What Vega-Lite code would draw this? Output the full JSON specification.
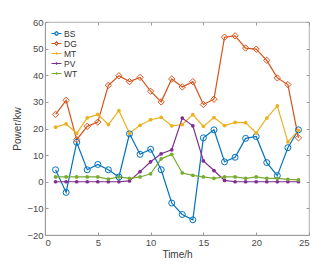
{
  "$schema": "https://vega.github.io/schema/vega-lite/v6.json",
  "autosize": "none",
  "width": 264,
  "height": 213,
  "padding": {"left": 45, "top": 22, "right": 23, "bottom": 32},
  "background": "white",
  "config": {
    "font": "Liberation Sans",
    "view": {"stroke": "#9a9a9a", "strokeWidth": 0.8},
    "legend": {"rowPadding": -3, "symbolBaseFillColor": "transparent"},
    "axis": {
      "grid": false,
      "domainColor": "#9a9a9a",
      "tickColor": "#9a9a9a",
      "labelColor": "#4a4a4a",
      "titleColor": "#3a3a3a",
      "labelFontSize": 9.5,
      "titleFontSize": 10,
      "titleFontWeight": "normal",
      "tickSize": -3,
      "labelPadding": 5
    }
  },
  "data": {
    "values": [
      {"t":1,"s":"BS","v":4.5},{"t":2,"s":"BS","v":-4},{"t":3,"s":"BS","v":14.8},{"t":4,"s":"BS","v":4.5},{"t":5,"s":"BS","v":6.5},{"t":6,"s":"BS","v":4.5},{"t":7,"s":"BS","v":1.8},{"t":8,"s":"BS","v":18},{"t":9,"s":"BS","v":10.3},{"t":10,"s":"BS","v":12.2},{"t":11,"s":"BS","v":4.5},{"t":12,"s":"BS","v":-8},{"t":13,"s":"BS","v":-12.3},{"t":14,"s":"BS","v":-14.3},{"t":15,"s":"BS","v":16.5},{"t":16,"s":"BS","v":19.5},{"t":17,"s":"BS","v":7.5},{"t":18,"s":"BS","v":9.2},{"t":19,"s":"BS","v":16.3},{"t":20,"s":"BS","v":17},{"t":21,"s":"BS","v":7.2},{"t":22,"s":"BS","v":2.3},{"t":23,"s":"BS","v":12.8},{"t":24,"s":"BS","v":19.5},
      {"t":1,"s":"DG","v":25.3},{"t":2,"s":"DG","v":30.6},{"t":3,"s":"DG","v":15.8},{"t":4,"s":"DG","v":20.8},{"t":5,"s":"DG","v":22.4},{"t":6,"s":"DG","v":36.2},{"t":7,"s":"DG","v":39.8},{"t":8,"s":"DG","v":37.6},{"t":9,"s":"DG","v":39.2},{"t":10,"s":"DG","v":34},{"t":11,"s":"DG","v":30},{"t":12,"s":"DG","v":38.6},{"t":13,"s":"DG","v":35.6},{"t":14,"s":"DG","v":37.6},{"t":15,"s":"DG","v":29},{"t":16,"s":"DG","v":31},{"t":17,"s":"DG","v":54.3},{"t":18,"s":"DG","v":54.8},{"t":19,"s":"DG","v":50.2},{"t":20,"s":"DG","v":49.8},{"t":21,"s":"DG","v":45.6},{"t":22,"s":"DG","v":39},{"t":23,"s":"DG","v":36.5},{"t":24,"s":"DG","v":16.5},
      {"t":1,"s":"MT","v":20.5},{"t":2,"s":"MT","v":21.7},{"t":3,"s":"MT","v":18.2},{"t":4,"s":"MT","v":24},{"t":5,"s":"MT","v":25.3},{"t":6,"s":"MT","v":21.5},{"t":7,"s":"MT","v":26.7},{"t":8,"s":"MT","v":18.2},{"t":9,"s":"MT","v":21.2},{"t":10,"s":"MT","v":23.3},{"t":11,"s":"MT","v":24.2},{"t":12,"s":"MT","v":21},{"t":13,"s":"MT","v":21.5},{"t":14,"s":"MT","v":25.2},{"t":15,"s":"MT","v":20.8},{"t":16,"s":"MT","v":24.1},{"t":17,"s":"MT","v":21.1},{"t":18,"s":"MT","v":22.3},{"t":19,"s":"MT","v":22.2},{"t":20,"s":"MT","v":18.3},{"t":21,"s":"MT","v":23.9},{"t":22,"s":"MT","v":28.5},{"t":23,"s":"MT","v":15},{"t":24,"s":"MT","v":19.3},
      {"t":1,"s":"PV","v":0},{"t":2,"s":"PV","v":0},{"t":3,"s":"PV","v":0},{"t":4,"s":"PV","v":0},{"t":5,"s":"PV","v":0},{"t":6,"s":"PV","v":0},{"t":7,"s":"PV","v":0},{"t":8,"s":"PV","v":0.3},{"t":9,"s":"PV","v":3.8},{"t":10,"s":"PV","v":7.5},{"t":11,"s":"PV","v":10.5},{"t":12,"s":"PV","v":12},{"t":13,"s":"PV","v":23.9},{"t":14,"s":"PV","v":21},{"t":15,"s":"PV","v":7.8},{"t":16,"s":"PV","v":4.2},{"t":17,"s":"PV","v":0.5},{"t":18,"s":"PV","v":0},{"t":19,"s":"PV","v":0},{"t":20,"s":"PV","v":0},{"t":21,"s":"PV","v":0},{"t":22,"s":"PV","v":0},{"t":23,"s":"PV","v":0},{"t":24,"s":"PV","v":0},
      {"t":1,"s":"WT","v":1.8},{"t":2,"s":"WT","v":1.8},{"t":3,"s":"WT","v":1.8},{"t":4,"s":"WT","v":1.8},{"t":5,"s":"WT","v":1.8},{"t":6,"s":"WT","v":1},{"t":7,"s":"WT","v":1.8},{"t":8,"s":"WT","v":1.3},{"t":9,"s":"WT","v":1.8},{"t":10,"s":"WT","v":3},{"t":11,"s":"WT","v":8.6},{"t":12,"s":"WT","v":10.3},{"t":13,"s":"WT","v":3.3},{"t":14,"s":"WT","v":2.4},{"t":15,"s":"WT","v":1.8},{"t":16,"s":"WT","v":1.3},{"t":17,"s":"WT","v":1.8},{"t":18,"s":"WT","v":1.8},{"t":19,"s":"WT","v":1.3},{"t":20,"s":"WT","v":1.8},{"t":21,"s":"WT","v":1.3},{"t":22,"s":"WT","v":1.3},{"t":23,"s":"WT","v":0.9},{"t":24,"s":"WT","v":0.7}
    ]
  },
  "layer": [
    {"mark": {"type": "point", "opacity": 0, "filled": false, "size": 400, "strokeWidth": 1},
     "encoding": {
       "x": {"field": "t", "type": "quantitative", "scale": {"domain": [0, 25], "nice": false},
         "axis": {"orient": "top", "values": [0,5,10,15,20,25], "labels": false, "title": null, "domain": false}},
       "y": {"field": "v", "type": "quantitative", "scale": {"domain": [-20, 60], "nice": false},
         "axis": {"orient": "right", "values": [-20,-10,0,10,20,30,40,50,60], "labels": false, "title": null, "domain": false}},
       "stroke": {"field": "s", "type": "nominal", "title": null,
         "scale": {"domain": ["BS","DG","MT","PV","WT"], "range": ["#0072BD","#D95319","#EDB120","#7E2F8E","#77AC30"]},
         "legend": {"orient": "top-left", "offset": 6, "padding": 0, "labelFontSize": 8.5, "labelColor": "#333", "symbolOpacity": 1, "symbolStrokeWidth": 1, "rowPadding": -3, "labelOffset": 2}},
       "shape": {"field": "s", "type": "nominal", "title": null,
         "scale": {"domain": ["BS","DG","MT","PV","WT"], "range": [
           "M-1,0H-0.36M0.36,0H1M-0.36,0A0.36,0.36 0 1,0 0.36,0A0.36,0.36 0 1,0 -0.36,0ZM-0.3,0A0.3,0.3 0 1,1 0.3,0A0.3,0.3 0 1,1 -0.3,0Z",
           "M-1,0H-0.3M0.3,0H1M0,-0.42L0.3,0L0,0.42L-0.3,0ZM0,-0.34L-0.24,0L0,0.34L0.24,0Z",
           "M-1,0H1M-0.17,0A0.17,0.17 0 1,0 0.17,0A0.17,0.17 0 1,0 -0.17,0Z",
           "M-1,0H1M-0.17,0A0.17,0.17 0 1,0 0.17,0A0.17,0.17 0 1,0 -0.17,0Z",
           "M-1,0H1M-0.17,0A0.17,0.17 0 1,0 0.17,0A0.17,0.17 0 1,0 -0.17,0Z"]},
         "legend": {"orient": "top-left", "offset": 6, "padding": 0, "labelFontSize": 8.5, "labelColor": "#333", "symbolOpacity": 1, "symbolStrokeWidth": 1, "rowPadding": -3, "labelOffset": 2}}
     }},
    {"mark": {"type": "line", "strokeWidth": 1.2},
     "encoding": {
       "x": {"field": "t", "type": "quantitative", "title": "Time/h",
         "axis": {"values": [0,5,10,15,20,25], "titlePadding": 3}},
       "y": {"field": "v", "type": "quantitative", "title": "Power/kw",
         "axis": {"values": [-20,-10,0,10,20,30,40,50,60], "titlePadding": 4}},
       "color": {"field": "s", "type": "nominal", "legend": null,
         "scale": {"domain": ["BS","DG","MT","PV","WT"], "range": ["#0072BD","#D95319","#EDB120","#7E2F8E","#77AC30"]}}}},
    {"transform": [{"filter": "datum.s === 'BS'"}],
     "mark": {"type": "point", "shape": "circle", "filled": false, "strokeWidth": 1, "size": 36, "opacity": 1},
     "encoding": {"x": {"field": "t", "type": "quantitative", "axis": null}, "y": {"field": "v", "type": "quantitative", "axis": null},
       "color": {"field": "s", "type": "nominal", "legend": null}}},
    {"transform": [{"filter": "datum.s === 'DG'"}],
     "mark": {"type": "point", "shape": "diamond", "filled": false, "strokeWidth": 1, "size": 40, "opacity": 1},
     "encoding": {"x": {"field": "t", "type": "quantitative", "axis": null}, "y": {"field": "v", "type": "quantitative", "axis": null},
       "color": {"field": "s", "type": "nominal", "legend": null}}},
    {"transform": [{"filter": "datum.s !== 'BS' && datum.s !== 'DG'"}],
     "mark": {"type": "circle", "size": 14, "opacity": 1},
     "encoding": {"x": {"field": "t", "type": "quantitative", "axis": null}, "y": {"field": "v", "type": "quantitative", "axis": null},
       "color": {"field": "s", "type": "nominal", "legend": null}}}
  ],
  "resolve": {"axis": {"x": "independent", "y": "independent"}}
}
